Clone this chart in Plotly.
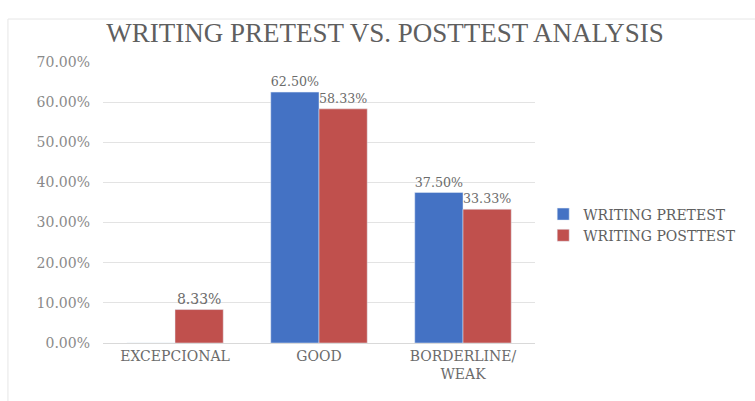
import plotly.graph_objects as go

categories = ["EXCEPCIONAL", "GOOD", "BORDERLINE/<br>WEAK"]
pretest = [0.0, 0.625, 0.375]
posttest = [0.0833, 0.5833, 0.3333]
series_names = ["WRITING PRETEST", "WRITING POSTTEST"]
tick_vals = [0, 0.1, 0.2, 0.3, 0.4, 0.5, 0.6, 0.7]

SERIF = "DejaVu Serif, serif"
TITLE_FONT = "Liberation Serif, serif"

def labels(vals):
    return [("" if v == 0 else f"{v*100:.2f}%") for v in vals]

fig = go.Figure()
fig.add_trace(go.Bar(x=categories, y=pretest, name=series_names[0],
                     marker_color="#4472C4", text=labels(pretest),
                     textposition="outside", cliponaxis=False,
                     textfont=dict(family=SERIF, size=14, color="#6b6b6b")))
fig.add_trace(go.Bar(x=categories, y=posttest, name=series_names[1],
                     marker_color="#C0504D", text=labels(posttest),
                     textposition="outside", cliponaxis=False,
                     textfont=dict(family=SERIF, size=14, color="#6b6b6b")))

fig.update_layout(
    width=755, height=401,
    margin=dict(l=103, r=220, t=62, b=58),
    paper_bgcolor="white", plot_bgcolor="white",
    barmode="group", bargap=0.33, bargroupgap=0,
    title=dict(text="WRITING PRETEST VS. POSTTEST ANALYSIS",
               x=0.51, xanchor="center", y=0.92, yanchor="middle",
               font=dict(family=TITLE_FONT, size=27, color="#5f5f5f")),
    font=dict(family=SERIF, color="#7a7a7a"),
    legend=dict(x=1.019, xanchor="left", y=0.42, yanchor="middle",
                font=dict(family=SERIF, size=14, color="#5f5f5f"),
                itemwidth=30, tracegroupgap=0, bgcolor="rgba(0,0,0,0)"),
    showlegend=True,
)
fig.update_yaxes(range=[0, 0.7], tickvals=tick_vals, tickformat=".2%",
                 showgrid=True, gridcolor="#e3e3e3", gridwidth=1,
                 zeroline=False, showline=False, ticks="",
                 ticklabelstandoff=12,
                 tickfont=dict(family=SERIF, size=14, color="#8a8a8a"))
fig.update_xaxes(showline=True, linecolor="#d9d9d9", linewidth=1, ticks="",
                 tickfont=dict(family=SERIF, size=14, color="#6b6b6b"))

fig.add_shape(type="rect", xref="paper", yref="paper",
              x0=-0.22, x1=1.55, y0=-0.25, y1=1.153,
              line=dict(color="#e6e6e6", width=1), layer="below")

fig.write_html("out.html")
